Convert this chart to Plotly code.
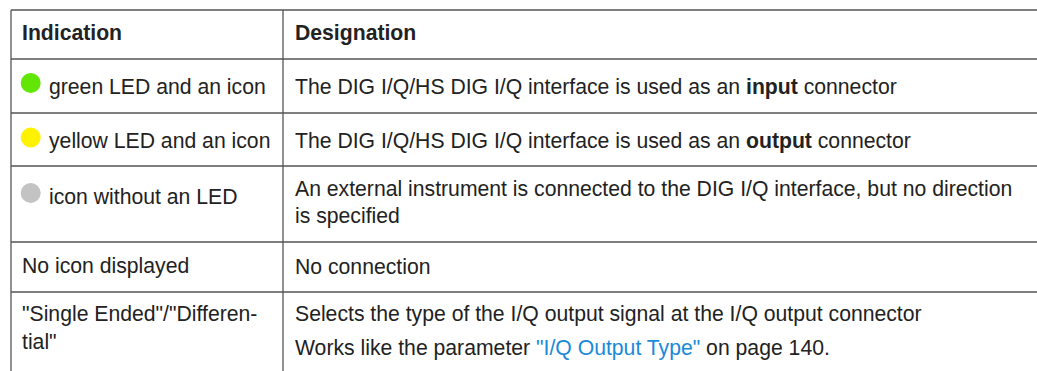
import plotly.graph_objects as go

# ---- table content ----
headers = ["Indication", "Designation"]
indication_lines = [
    ["green LED and an icon"],
    ["yellow LED and an icon"],
    ["icon without an LED"],
    ["No icon displayed"],
    ['"Single Ended"/"Differen-', 'tial"'],
]
designation_lines = [
    ["The DIG I/Q/HS DIG I/Q interface is used as an <b>input</b> connector"],
    ["The DIG I/Q/HS DIG I/Q interface is used as an <b>output</b> connector"],
    ["An external instrument is connected to the DIG I/Q interface, but no direction",
     "is specified"],
    ["No connection"],
    ["Selects the type of the I/Q output signal at the I/Q output connector",
     'Works like the parameter <span style="color:#1a8ad8">"I/Q Output Type"</span> on page 140.'],
]
led_colors = ["#62e606", "#fff200", "#c3c3c3", None, None]

# ---- layout (pixel positions) ----
W, H = 1037, 371
row_lines = [10, 59, 113, 166, 242, 292]
col_lines = [11, 283]
x_left_text = 20
x_left_after_led = 47
x_right_text = 293
header_y = 32.5
left_line_y = [[86.5], [141], [196.5], [266], [314, 341]]
right_line_y = [[86.5], [141], [188.5, 215.5], [266], [314, 347.5]]
led_x = 30.7
led_offset = -3.5
FONT = "Liberation Sans, Arial, sans-serif"
FS = 21.2
TXT = "#222222"
LINE = "#555555"

fig = go.Figure()

shapes = []
for i, y in enumerate(row_lines):
    shapes.append(dict(type="line", xref="x", yref="y", x0=col_lines[0], x1=W + 5,
                       y0=y, y1=y, line=dict(color=LINE, width=1.6 if i == 1 else 1.3)))
for x in col_lines:
    shapes.append(dict(type="line", xref="x", yref="y", x0=x, x1=x,
                       y0=row_lines[0], y1=H + 5, line=dict(color=LINE, width=1.3)))

annotations = []
def add_text(x, y, text, bold=False):
    annotations.append(dict(x=x, y=y, xref="x", yref="y", text=f"<b>{text}</b>" if bold else text,
                            showarrow=False, xanchor="left", yanchor="middle",
                            font=dict(family=FONT, size=FS, color=TXT)))

add_text(x_left_text, header_y, headers[0], bold=True)
add_text(x_right_text, header_y, headers[1], bold=True)

led_xs, led_ys, led_cs = [], [], []
for i in range(len(indication_lines)):
    xl = x_left_after_led if led_colors[i] else x_left_text
    for line, y in zip(indication_lines[i], left_line_y[i]):
        add_text(xl, y, line)
    for line, y in zip(designation_lines[i], right_line_y[i]):
        add_text(x_right_text, y, line)
    if led_colors[i]:
        led_xs.append(led_x)
        led_ys.append(left_line_y[i][0] + led_offset)
        led_cs.append(led_colors[i])

fig.add_trace(go.Scatter(x=led_xs, y=led_ys, mode="markers",
                         marker=dict(size=20, color=led_cs, line=dict(width=0)),
                         hoverinfo="skip", showlegend=False))

fig.update_layout(
    width=W, height=H, margin=dict(l=0, r=0, t=0, b=0),
    paper_bgcolor="white", plot_bgcolor="white",
    xaxis=dict(range=[0, W], visible=False, fixedrange=True),
    yaxis=dict(range=[H, 0], visible=False, fixedrange=True),
    shapes=shapes, annotations=annotations, showlegend=False,
)

fig.write_html("out.html", config={"displayModeBar": False},
               post_script="document.body.style.margin='0';document.body.style.overflow='hidden';")
